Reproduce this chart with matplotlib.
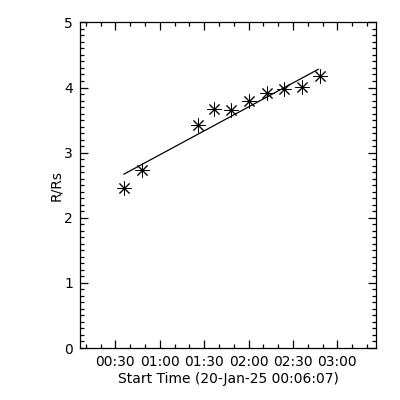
import numpy as np
import matplotlib
matplotlib.use('Agg')
import matplotlib.pyplot as plt
from matplotlib.ticker import FixedLocator, MultipleLocator

# minutes after the start time 00:06:07
t_min = [29.7, 42.1, 79.9, 90.7, 102.0, 114.4, 126.1, 138.0, 150.2, 162.4]
r_rs = [2.46, 2.74, 3.42, 3.67, 3.66, 3.80, 3.92, 3.97, 4.01, 4.17]

# fitted line
fit_t = [29.7, 161.0]
fit_r = [2.67, 4.28]

tick_labels = ['00:30', '01:00', '01:30', '02:00', '02:30', '03:00']
start_off = 23.88  # 00:30:00 - 00:06:07 in minutes

fig = plt.figure(figsize=(4, 4), dpi=100)
ax = fig.add_axes([0.2, 0.13, 0.74, 0.814])

ax.plot(t_min, r_rs, linestyle='none', marker=(8, 2, 0), markersize=10,
        markeredgewidth=0.7, color='black')
ax.plot(fit_t, fit_r, color='black', lw=0.9)

ax.set_xlim(0, 200)
ax.set_ylim(0, 5)

major = [start_off + 30 * k for k in range(len(tick_labels))]
minor = [start_off - 20 + 10 * k for k in range(21)]
ax.xaxis.set_major_locator(FixedLocator(major))
ax.xaxis.set_minor_locator(FixedLocator(minor))
ax.set_xticklabels(tick_labels)
ax.yaxis.set_major_locator(MultipleLocator(1))
ax.yaxis.set_minor_locator(MultipleLocator(0.1))

ax.tick_params(which='both', direction='in', top=True, right=True,
               width=0.9, labelsize=10, pad=5)
ax.tick_params(which='major', length=6)
ax.tick_params(which='minor', length=3)
for s in ax.spines.values():
    s.set_linewidth(0.9)

ax.set_xlabel('Start Time (20-Jan-25 00:06:07)', fontsize=10, labelpad=2)
ax.set_ylabel('R/Rs', fontsize=10, labelpad=1)

fig.savefig('out.png', dpi=100)
